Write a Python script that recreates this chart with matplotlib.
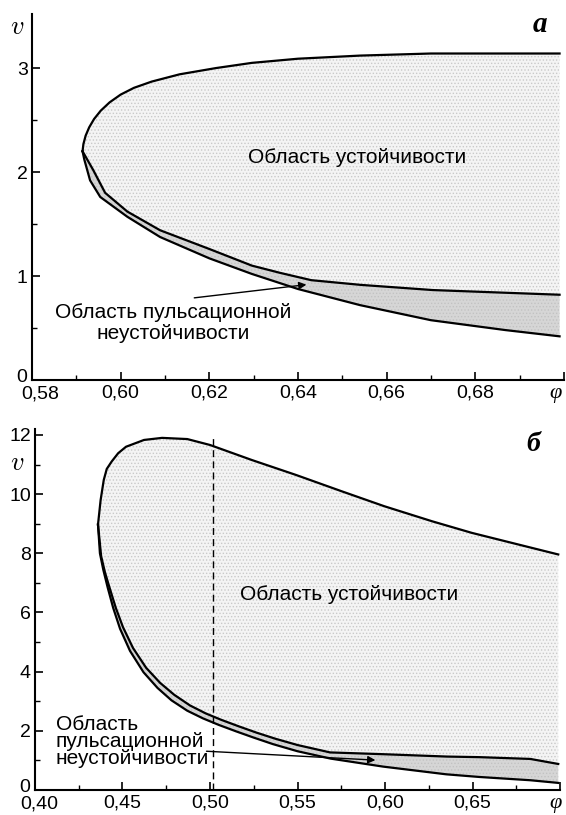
import matplotlib.pyplot as plt
import matplotlib as mpl
import matplotlib.transforms as mtransforms

mpl.rcParams['font.family'] = ['Liberation Sans', 'DejaVu Sans']
mpl.rcParams['mathtext.fontset'] = 'cm'
mpl.rcParams['hatch.linewidth'] = 0.6

# ---- panel a: data ----
a_upper_x = [0.5914, 0.5916, 0.5921, 0.5929, 0.5940, 0.5955, 0.5975, 0.6000,
             0.6030, 0.6070, 0.6133, 0.6215, 0.6296, 0.6400, 0.6540, 0.6700,
             0.6990]
a_upper_v = [2.20, 2.27, 2.35, 2.43, 2.51, 2.59, 2.67, 2.745, 2.81, 2.87,
             2.94, 3.00, 3.05, 3.09, 3.12, 3.14, 3.14]
a_inner_x = [0.5914, 0.5938, 0.5965, 0.6015, 0.6089, 0.6200, 0.6296, 0.6360,
             0.6430, 0.6541, 0.6704, 0.6990]
a_inner_v = [2.20, 2.02, 1.80, 1.62, 1.44, 1.26, 1.10, 1.03, 0.96, 0.915,
             0.865, 0.82]
a_lower_x = [0.5914, 0.5918, 0.5931, 0.5954, 0.6015, 0.6089, 0.6200, 0.6296,
             0.6400, 0.6540, 0.6700, 0.6868, 0.6990]
a_lower_v = [2.20, 2.12, 1.92, 1.76, 1.57, 1.375, 1.17, 1.02, 0.875, 0.72,
             0.575, 0.48, 0.42]
a_xticks = [0.58, 0.60, 0.62, 0.64, 0.66, 0.68, 0.70]
a_xlabels = ['0,58', '0,60', '0,62', '0,64', '0,66', '0,68', '']
a_xminor = [0.59, 0.61, 0.63, 0.65, 0.67, 0.69]
a_yticks = [0, 1, 2, 3]
a_yminor = [0.5, 1.5, 2.5]

# ---- panel b ----
b_upper_x = [0.4360, 0.4375, 0.4393, 0.4410, 0.4438, 0.4475, 0.4520, 0.4623,
             0.4726, 0.4870, 0.5000, 0.5240, 0.5490, 0.5755, 0.5996, 0.6270,
             0.6496, 0.6780, 0.6990]
b_upper_v = [8.97, 9.80, 10.48, 10.85, 11.10, 11.38, 11.60, 11.83, 11.90,
             11.86, 11.66, 11.15, 10.65, 10.09, 9.59, 9.08, 8.69, 8.27, 7.96]
b_inner_x = [0.4360, 0.4378, 0.4400, 0.4428, 0.4462, 0.4503, 0.4560, 0.4635,
             0.4715, 0.4795, 0.4885, 0.4975, 0.5065, 0.5165, 0.5265, 0.5375,
             0.5500, 0.5686, 0.5989, 0.6354, 0.6540, 0.6830, 0.6990]
b_inner_v = [8.97, 7.90, 7.35, 6.80, 6.15, 5.50, 4.80, 4.13, 3.62, 3.22, 2.86,
             2.59, 2.37, 2.15, 1.94, 1.73, 1.52, 1.27, 1.21, 1.13, 1.11, 1.05,
             0.88]
b_lower_x = [0.4360, 0.4371, 0.4390, 0.4415, 0.4447, 0.4486, 0.4543, 0.4620,
             0.4700, 0.4780, 0.4870, 0.4960, 0.5050, 0.5150, 0.5250, 0.5360,
             0.5500, 0.5690, 0.5990, 0.6350, 0.6540, 0.6830, 0.6990]
b_lower_v = [8.97, 8.00, 7.45, 6.85, 6.15, 5.45, 4.70, 3.98, 3.45, 3.03, 2.68,
             2.42, 2.20, 1.98, 1.77, 1.55, 1.31, 1.06, 0.79, 0.53, 0.44, 0.33,
             0.24]
b_dash_x = 0.502
b_xticks = [0.40, 0.45, 0.50, 0.55, 0.60, 0.65, 0.70]
b_xlabels = ['0,40', '0,45', '0,50', '0,55', '0,60', '0,65', '']
b_xminor = [0.425, 0.475, 0.525, 0.575, 0.625, 0.675]
b_yticks = [0, 2, 4, 6, 8, 10, 12]
b_yminor = [1, 3, 5, 7, 9, 11]

stable_txt = 'Область устойчивости'
puls_txt = 'Область пульсационной\nнеустойчивости'
puls_txt_b = 'Область\nпульсационной\nнеустойчивости'

fig = plt.figure(figsize=(5.66, 8.15), dpi=100)
ax1 = fig.add_axes([32 / 566, 435 / 815, 532 / 566, 366 / 815])
ax2 = fig.add_axes([35 / 566, 25 / 815, 525 / 566, 361 / 815])


def regions(ax, ux, uv, ix, iv, lx, lv):
    ax.fill(ux + ix[::-1], uv + iv[::-1], facecolor='#f4f4f4',
            edgecolor='#c9c9c9', linewidth=0, hatch='.....')
    ax.fill(ix + lx[::-1], iv + lv[::-1], facecolor='#d6d6d6',
            edgecolor='#c2c2c2', linewidth=0, hatch='.....')
    for xs, vs in ((ux, uv), (ix, iv), (lx, lv)):
        ax.plot(xs, vs, color='black', lw=1.6, solid_joinstyle='round')


def nudge(lab, dx, dy):
    lab.set_transform(lab.get_transform() + mtransforms.ScaledTranslation(
        dx / 100, dy / 100, fig.dpi_scale_trans))


def style(ax, xt, xl, xm, yt, ym, shift):
    for s in ('top', 'right'):
        ax.spines[s].set_visible(False)
    for s in ('left', 'bottom'):
        ax.spines[s].set_linewidth(1.5)
    ax.set_xticks(xt)
    ax.set_xticklabels(xl)
    ax.set_xticks(xm, minor=True)
    ax.set_yticks(yt)
    ax.set_yticks(ym, minor=True)
    ax.tick_params(which='major', direction='in', length=6, width=1.2,
                   labelsize=14, pad=3)
    ax.tick_params(which='minor', direction='in', length=3.5, width=1.0)
    # corner labels kept apart as in the original
    nudge(ax.get_xticklabels()[0], shift, -1)
    nudge(ax.get_yticklabels()[0], -1, 5)


regions(ax1, a_upper_x, a_upper_v, a_inner_x, a_inner_v, a_lower_x, a_lower_v)
style(ax1, a_xticks, a_xlabels, a_xminor, a_yticks, a_yminor, 8)
ax1.set_xlim(0.58, 0.70)
ax1.set_ylim(0, 3.52)
ax1.text(0.6533, 2.14, stable_txt, fontsize=15, ha='center', va='center')
ax1.text(0.6118, 0.55, puls_txt, fontsize=15, ha='center', va='center',
         linespacing=1.1)
ax1.annotate('', xy=(0.6419, 0.917), xytext=(0.6166, 0.79),
             arrowprops=dict(arrowstyle='-|>', color='black', lw=1.0,
                             mutation_scale=11, shrinkA=0, shrinkB=0))
ax1.text(0.6945, 3.42, 'а', family='Liberation Serif', fontsize=21,
         style='italic', weight='bold', ha='center', va='center')
ax1.text(0.698, -0.13, 'φ', family='Liberation Serif', fontsize=16,
         style='italic', ha='center', va='center')

regions(ax2, b_upper_x, b_upper_v, b_inner_x, b_inner_v, b_lower_x, b_lower_v)
style(ax2, b_xticks, b_xlabels, b_xminor, b_yticks, b_yminor, 4)
ax2.set_xlim(0.40, 0.70)
ax2.set_ylim(0, 12.2)
ax2.axvline(b_dash_x, ymin=0, ymax=12.0 / 12.2, color='black', lw=1.0,
            ls=(0, (5, 3)))
ax2.text(0.5796, 6.61, stable_txt, fontsize=15, ha='center', va='center')
ax2.text(0.412, 1.63, puls_txt_b, fontsize=15, ha='left', va='center',
         linespacing=0.87)
ax2.annotate('', xy=(0.5945, 1.01), xytext=(0.498, 1.31),
             arrowprops=dict(arrowstyle='-|>', color='black', lw=1.0,
                             mutation_scale=11, shrinkA=0, shrinkB=0))
ax2.text(0.6846, 11.66, 'б', family='Liberation Serif', fontsize=20,
         style='italic', weight='bold', ha='center', va='center')
ax2.text(0.6975, -0.45, 'φ', family='Liberation Serif', fontsize=16,
         style='italic', ha='center', va='center')

fig.text(17 / 566, 1 - 27 / 815, r'$v$', fontsize=19, ha='center', va='center')
fig.text(17 / 566, 1 - 463 / 815, r'$v$', fontsize=19, ha='center', va='center')

fig.savefig('out.png', dpi=100)
